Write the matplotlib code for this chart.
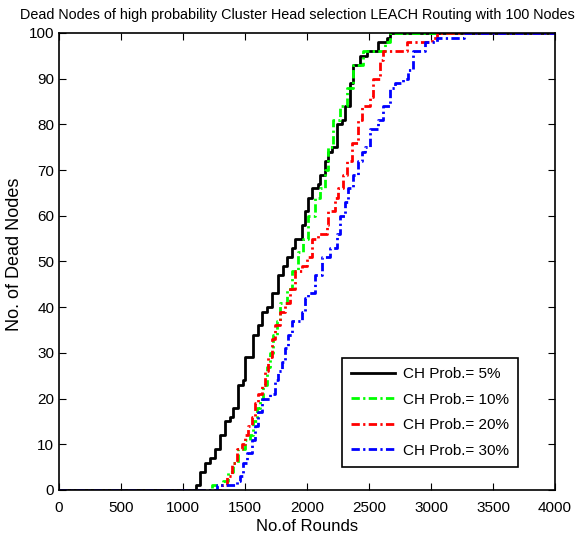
import matplotlib.pyplot as plt

plt.rcParams['font.family'] = ['Liberation Sans', 'DejaVu Sans']

# rounds at which the dead-node count changes, and the count reached there
rounds_5 = [0, 1105, 1137, 1178, 1218, 1258, 1298, 1339, 1379, 1403, 1444, 1484, 1500,
            1565, 1605, 1637, 1678, 1718, 1766, 1806, 1839, 1879, 1903, 1960, 1984,
            2008, 2040, 2089, 2105, 2145, 2169, 2202, 2242, 2282, 2306, 2347, 2371,
            2428, 2484, 2573, 2645, 2669, 4000]
dead_5 = [0, 1, 4, 6, 7, 9, 12, 15, 16, 18, 23, 24, 29,
          34, 36, 39, 40, 43, 47, 49, 51, 53, 55, 58, 61,
          64, 66, 67, 69, 72, 74, 75, 80, 81, 84, 89, 93,
          95, 96, 98, 99, 100, 100]

rounds_10 = [0, 1234, 1323, 1363, 1403, 1444, 1500, 1540, 1565, 1597, 1621, 1645, 1678,
             1702, 1726, 1758, 1782, 1839, 1879, 1927, 1968, 2008, 2065, 2105, 2145,
             2169, 2210, 2266, 2323, 2371, 2452, 2532, 2629, 2669, 4000]
dead_10 = [0, 1, 2, 4, 6, 9, 11, 12, 15, 18, 20, 23, 27,
           30, 34, 37, 41, 44, 48, 52, 55, 60, 64, 66, 70,
           75, 81, 84, 88, 93, 96, 96, 98, 100, 100]

rounds_20 = [0, 1315, 1355, 1395, 1436, 1476, 1500, 1524, 1556, 1581, 1605, 1637, 1661,
             1686, 1718, 1742, 1782, 1823, 1863, 1903, 1960, 2000, 2040, 2089, 2161,
             2169, 2226, 2250, 2290, 2323, 2363, 2411, 2444, 2508, 2532, 2589, 2613,
             2686, 2807, 2911, 3008, 3050, 4000]
dead_20 = [0, 1, 3, 6, 9, 10, 12, 14, 16, 19, 21, 23, 26,
           29, 33, 36, 39, 41, 44, 48, 49, 51, 55, 56, 58,
           61, 64, 66, 69, 72, 76, 81, 84, 86, 90, 94, 96,
           96, 98, 98, 99, 100, 100]

rounds_30 = [0, 1274, 1436, 1460, 1484, 1516, 1556, 1581, 1605, 1637, 1702, 1742, 1766,
             1798, 1823, 1847, 1879, 1919, 1960, 1984, 2008, 2065, 2121, 2186, 2242,
             2266, 2306, 2331, 2371, 2411, 2444, 2468, 2508, 2573, 2613, 2669, 2710,
             2774, 2815, 2855, 2911, 2952, 3048, 3270, 4000]
dead_30 = [0, 1, 2, 3, 6, 8, 11, 14, 17, 20, 21, 24, 26,
           28, 31, 34, 37, 37, 39, 42, 43, 47, 51, 53, 56,
           60, 63, 66, 69, 72, 74, 75, 79, 81, 84, 88, 89,
           90, 92, 96, 96, 98, 99, 100, 100]

fig = plt.figure(figsize=(5.86, 5.4), dpi=100)
ax = fig.add_axes([0.1007, 0.0926, 0.8464, 0.8463])

dd = (3, 1.2, 0.8, 1.2)
ax.plot(rounds_5, dead_5, color='k', lw=2, ls='-', drawstyle='steps-post', label='CH Prob.= 5%')
ax.plot(rounds_10, dead_10, color=(0, 1, 0), lw=2, dashes=dd, drawstyle='steps-post', label='CH Prob.= 10%')
ax.plot(rounds_20, dead_20, color=(1, 0, 0), lw=2, dashes=dd, drawstyle='steps-post', label='CH Prob.= 20%')
ax.plot(rounds_30, dead_30, color=(0, 0, 1), lw=2, dashes=dd, drawstyle='steps-post', label='CH Prob.= 30%')

ax.set_xlim(0, 4000)
ax.set_ylim(0, 100)
ax.set_xticks(range(0, 4001, 500))
ax.set_yticks(range(0, 101, 10))
ax.tick_params(direction='in', top=True, right=True, labelsize=11, length=5)
ax.tick_params(axis='x', pad=8)
for s in ax.spines.values():
    s.set_linewidth(1.2)

fig.text(0.507, 0.972, 'Dead Nodes of high probability Cluster Head selection LEACH Routing with 100 Nodes',
         fontsize=10.4, ha='center', va='center')
ax.set_xlabel('No.of Rounds', fontsize=12, labelpad=3)
ax.set_ylabel('No. of Dead Nodes', fontsize=13)
ax.yaxis.set_label_coords(-0.073, 0.516)

leg = ax.legend(loc='lower right', bbox_to_anchor=(0.941, 0.034), fontsize=11,
                fancybox=False, edgecolor='k', framealpha=1, handlelength=2.9,
                borderpad=0.6, labelspacing=0.75, handletextpad=0.5)
leg.get_frame().set_linewidth(1.2)

fig.savefig('out.png', dpi=100)
